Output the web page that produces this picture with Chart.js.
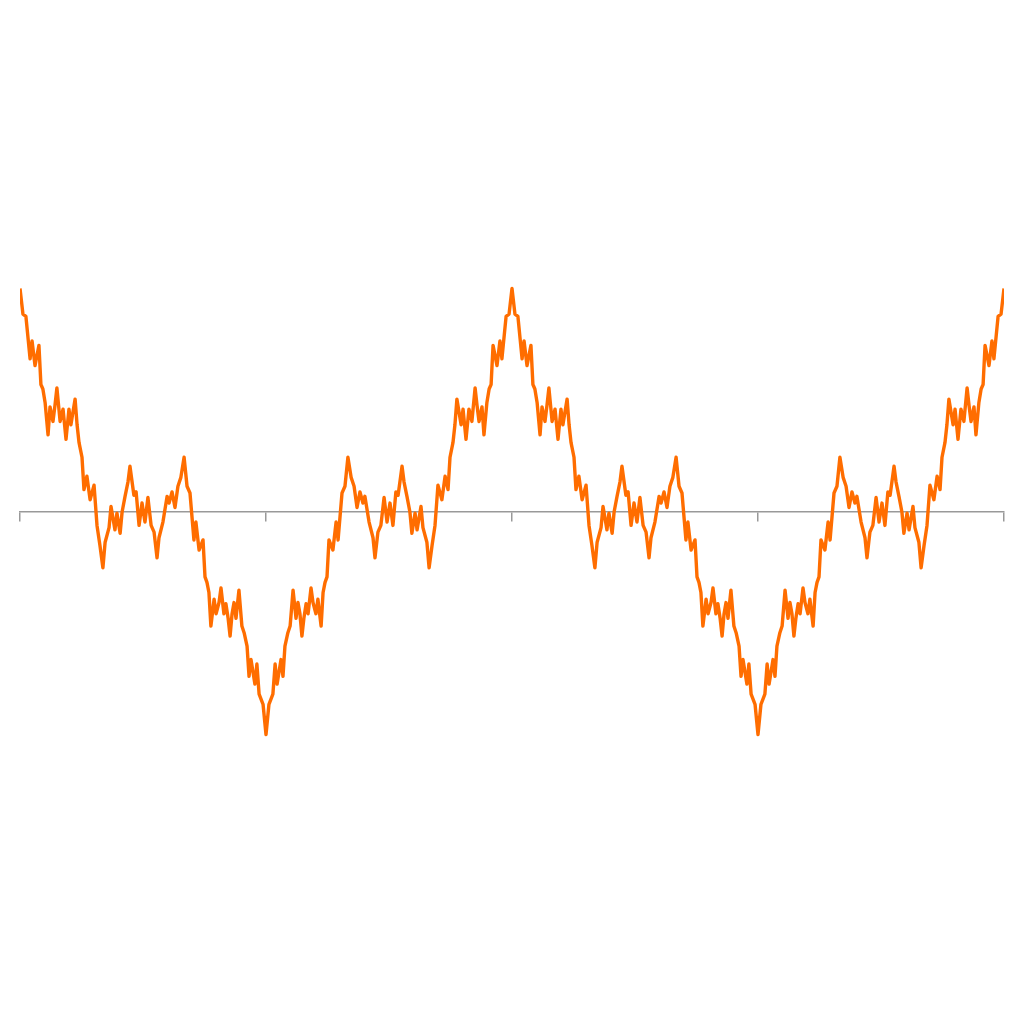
<!DOCTYPE html>
<html>
<head>
<meta charset="utf-8">
<script src="https://cdn.jsdelivr.net/npm/chart.js@4/dist/chart.umd.min.js"></script>
<style>
  html, body { margin: 0; padding: 0; background: #ffffff; }
  #wrap { width: 1024px; height: 1024px; }
</style>
</head>
<body>
<div id="wrap"><canvas id="c" width="1024" height="1024"></canvas></div>
<script>
// x positions of the sampled points (axis runs from -2 to 2)
const xValues = [
  -2.000,-1.988,-1.976,-1.959,-1.951,-1.939,-1.923,-1.915,-1.907,-1.898,-1.886,-1.878,-1.866,-1.858,-1.850,-1.837,-1.825,-1.813,-1.801,-1.793,
  -1.785,-1.776,-1.768,-1.760,-1.748,-1.740,-1.728,-1.715,-1.699,-1.687,-1.675,-1.663,-1.654,-1.638,-1.630,-1.614,-1.606,-1.593,-1.585,-1.573,
  -1.561,-1.553,-1.537,-1.528,-1.516,-1.504,-1.492,-1.480,-1.467,-1.455,-1.443,-1.435,-1.419,-1.402,-1.394,-1.382,-1.370,-1.358,-1.346,-1.333,
  -1.321,-1.309,-1.293,-1.285,-1.272,-1.256,-1.248,-1.240,-1.232,-1.224,-1.211,-1.203,-1.191,-1.183,-1.171,-1.163,-1.154,-1.146,-1.138,-1.130,
  -1.122,-1.110,-1.098,-1.089,-1.077,-1.069,-1.061,-1.045,-1.037,-1.028,-1.012,
  -1.000,-0.988,-0.972,-0.963,-0.955,-0.939,-0.931,-0.923,-0.911,-0.902,-0.890,-0.878,-0.870,-0.862,-0.854,-0.846,-0.837,-0.829,-0.817,-0.809,
  -0.797,-0.789,-0.776,-0.768,-0.760,-0.752,-0.744,-0.728,-0.715,-0.707,-0.691,-0.679,-0.667,-0.654,-0.642,-0.630,-0.618,-0.606,-0.598,-0.581,
  -0.565,-0.557,-0.545,-0.533,-0.520,-0.508,-0.496,-0.484,-0.472,-0.463,-0.447,-0.439,-0.427,-0.415,-0.407,-0.394,-0.386,-0.370,-0.362,-0.346,
  -0.337,-0.325,-0.313,-0.301,-0.285,-0.272,-0.260,-0.252,-0.240,-0.232,-0.224,-0.215,-0.207,-0.199,-0.187,-0.175,-0.163,-0.150,-0.142,-0.134,
  -0.122,-0.114,-0.102,-0.093,-0.085,-0.077,-0.061,-0.049,-0.041,-0.024,-0.012,
  0.000,0.012,0.024,0.041,0.049,0.061,0.077,0.085,0.093,0.102,0.114,0.122,0.134,0.142,0.150,0.163,0.175,0.187,0.199,0.207,
  0.215,0.224,0.232,0.240,0.252,0.260,0.272,0.285,0.301,0.313,0.325,0.337,0.346,0.362,0.370,0.386,0.394,0.407,0.415,0.427,
  0.439,0.447,0.463,0.472,0.484,0.496,0.508,0.520,0.533,0.545,0.557,0.565,0.581,0.598,0.606,0.618,0.630,0.642,0.654,0.667,
  0.679,0.691,0.707,0.715,0.728,0.744,0.752,0.760,0.768,0.776,0.789,0.797,0.809,0.817,0.829,0.837,0.846,0.854,0.862,0.870,
  0.878,0.890,0.902,0.911,0.923,0.931,0.939,0.955,0.963,0.972,0.988,
  1.000,1.012,1.028,1.037,1.045,1.061,1.069,1.077,1.089,1.098,1.110,1.122,1.130,1.138,1.146,1.154,1.163,1.171,1.183,1.191,
  1.203,1.211,1.224,1.232,1.240,1.248,1.256,1.272,1.285,1.293,1.309,1.321,1.333,1.346,1.358,1.370,1.382,1.394,1.402,1.419,
  1.435,1.443,1.455,1.467,1.480,1.492,1.504,1.516,1.528,1.537,1.553,1.561,1.573,1.585,1.593,1.606,1.614,1.630,1.638,1.654,
  1.663,1.675,1.687,1.699,1.715,1.728,1.740,1.748,1.760,1.768,1.776,1.785,1.793,1.801,1.813,1.825,1.837,1.850,1.858,1.866,
  1.878,1.886,1.898,1.907,1.915,1.923,1.939,1.951,1.959,1.976,1.988,2.000
];

// curve values
const yValues = [
  2.00,1.77,1.75,1.37,1.53,1.31,1.49,1.14,1.10,0.98,0.69,0.94,0.81,0.95,1.11,0.81,0.92,0.65,0.92,0.78,
  0.89,1.01,0.78,0.62,0.49,0.20,0.32,0.11,0.24,-0.12,-0.30,-0.50,-0.27,-0.14,0.05,-0.16,-0.01,-0.19,0.00,0.14,
  0.27,0.41,0.15,0.18,-0.12,0.08,-0.09,0.13,-0.12,-0.18,-0.41,-0.23,-0.09,0.14,0.08,0.18,0.04,0.23,0.31,0.49,
  0.23,0.17,-0.25,-0.09,-0.34,-0.25,-0.58,-0.63,-0.72,-1.02,-0.78,-0.91,-0.81,-0.68,-0.91,-0.82,-0.95,-1.11,-0.91,-0.81,
  -0.95,-0.70,-1.02,-1.08,-1.20,-1.47,-1.32,-1.54,-1.36,-1.63,-1.72,
  -1.99,-1.72,-1.63,-1.36,-1.54,-1.32,-1.47,-1.20,-1.08,-1.02,-0.70,-0.95,-0.81,-0.91,-1.11,-0.95,-0.82,-0.91,-0.68,-0.81,
  -0.91,-0.78,-1.02,-0.72,-0.63,-0.58,-0.25,-0.34,-0.09,-0.25,0.17,0.23,0.49,0.31,0.23,0.04,0.18,0.08,0.14,-0.09,
  -0.23,-0.41,-0.18,-0.12,0.13,-0.09,0.08,-0.12,0.18,0.15,0.41,0.27,0.14,0.00,-0.19,-0.01,-0.16,0.05,-0.14,-0.27,
  -0.50,-0.30,-0.12,0.24,0.11,0.32,0.20,0.49,0.62,0.78,1.01,0.89,0.78,0.92,0.65,0.92,0.81,1.11,0.95,0.81,
  0.94,0.69,0.98,1.10,1.14,1.49,1.31,1.53,1.37,1.75,1.77,
  2.00,1.77,1.75,1.37,1.53,1.31,1.49,1.14,1.10,0.98,0.69,0.94,0.81,0.95,1.11,0.81,0.92,0.65,0.92,0.78,
  0.89,1.01,0.78,0.62,0.49,0.20,0.32,0.11,0.24,-0.12,-0.30,-0.50,-0.27,-0.14,0.05,-0.16,-0.01,-0.19,0.00,0.14,
  0.27,0.41,0.15,0.18,-0.12,0.08,-0.09,0.13,-0.12,-0.18,-0.41,-0.23,-0.09,0.14,0.08,0.18,0.04,0.23,0.31,0.49,
  0.23,0.17,-0.25,-0.09,-0.34,-0.25,-0.58,-0.63,-0.72,-1.02,-0.78,-0.91,-0.81,-0.68,-0.91,-0.82,-0.95,-1.11,-0.91,-0.81,
  -0.95,-0.70,-1.02,-1.08,-1.20,-1.47,-1.32,-1.54,-1.36,-1.63,-1.72,
  -1.99,-1.72,-1.63,-1.36,-1.54,-1.32,-1.47,-1.20,-1.08,-1.02,-0.70,-0.95,-0.81,-0.91,-1.11,-0.95,-0.82,-0.91,-0.68,-0.81,
  -0.91,-0.78,-1.02,-0.72,-0.63,-0.58,-0.25,-0.34,-0.09,-0.25,0.17,0.23,0.49,0.31,0.23,0.04,0.18,0.08,0.14,-0.09,
  -0.23,-0.41,-0.18,-0.12,0.13,-0.09,0.08,-0.12,0.18,0.15,0.41,0.27,0.14,0.00,-0.19,-0.01,-0.16,0.05,-0.14,-0.27,
  -0.50,-0.30,-0.12,0.24,0.11,0.32,0.20,0.49,0.62,0.78,1.01,0.89,0.78,0.92,0.65,0.92,0.81,1.11,0.95,0.81,
  0.94,0.69,0.98,1.10,1.14,1.49,1.31,1.53,1.37,1.75,1.77,2.00
];

// x-axis tick positions
const xTicks = [-2, -1, 0, 1, 2];

const points = xValues.map((x, i) => ({ x: x, y: yValues[i] }));

new Chart(document.getElementById('c'), {
  type: 'line',
  data: {
    datasets: [{
      data: points,
      borderColor: '#ff6d00',
      borderWidth: 3.4,
      pointRadius: 0,
      tension: 0,
      fill: false,
      borderJoinStyle: 'round'
    }]
  },
  options: {
    responsive: false,
    devicePixelRatio: 1,
    animation: false,
    layout: { padding: { left: 20, right: 20, top: 0, bottom: 0 } },
    plugins: { legend: { display: false }, tooltip: { enabled: false } },
    scales: {
      x: {
        type: 'linear',
        min: -2,
        max: 2,
        position: { y: 0 },
        afterBuildTicks: (scale) => { scale.ticks = xTicks.map(v => ({ value: v })); },
        ticks: { display: false },
        grid: { drawOnChartArea: false, drawTicks: true, tickLength: 9, color: '#999999', lineWidth: 1.5 },
        border: { display: true, color: '#999999', width: 1.5 }
      },
      y: {
        type: 'linear',
        display: false,
        min: -4.58,
        max: 4.58
      }
    }
  }
});
</script>
</body>
</html>
